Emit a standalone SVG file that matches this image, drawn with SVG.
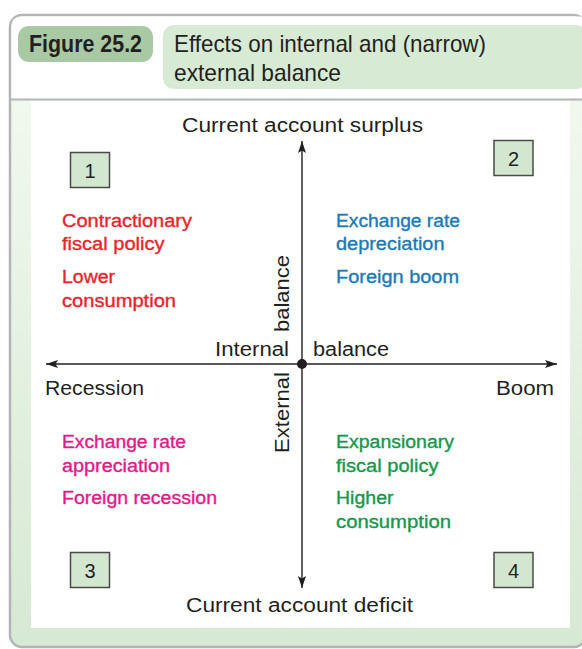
<svg xmlns="http://www.w3.org/2000/svg" width="582" height="649" viewBox="0 0 582 649">
<defs>
<linearGradient id="bg" x1="0" y1="100" x2="0" y2="648" gradientUnits="userSpaceOnUse">
<stop offset="0" stop-color="#f1f8ef"/>
<stop offset="1" stop-color="#d6e9d3"/>
</linearGradient>
<marker id="ah" viewBox="0 0 12 8" refX="12" refY="4" markerWidth="12" markerHeight="8" markerUnits="userSpaceOnUse" orient="auto">
<path d="M0,0 L12,4 L0,8 L2.5,4 z" fill="#231f20"/>
</marker>
<style>
.t{font-family:"Liberation Sans",Arial,sans-serif;fill:#231f20}
.ax{font-size:20px}
.q{font-size:18px;font-family:"Liberation Sans",Arial,sans-serif;stroke-width:0.35}
.red{fill:#e8232c;stroke:#e8232c}
.blue{fill:#1a7ab6;stroke:#1a7ab6}
.mag{fill:#e4178c;stroke:#e4178c}
.grn{fill:#14984a;stroke:#14984a}
.box rect{fill:#d3e6d0;stroke:#4a4a4a;stroke-width:1.5}
.box text{font-family:"Liberation Sans",Arial,sans-serif;font-size:20px;fill:#231f20;text-anchor:middle}
.axis{stroke:#231f20;stroke-width:1.4;fill:none}
</style>
</defs>

<g id="frame">
<rect x="10" y="15" width="576" height="632" rx="12" fill="url(#bg)" stroke="#b4b4b8" stroke-width="2.5"/>
<path d="M11.5,99.5 L582,99.5 L582,16.5 L22,16.5 Q11.5,16.5 11.5,27 Z" fill="#ffffff"/>
<line x1="10" y1="99.5" x2="582" y2="99.5" stroke="#b4b4b8" stroke-width="2"/>
<rect x="31" y="101" width="539" height="527" fill="#ffffff"/>
</g>

<g id="header">
<rect x="18" y="26" width="135" height="36" rx="11" fill="#a9c8a4"/>
<text class="t" x="29" y="52" font-size="24" font-weight="bold" textLength="113" lengthAdjust="spacingAndGlyphs">Figure 25.2</text>
<rect x="163" y="25" width="424" height="64" rx="11" fill="#d7ead4"/>
<text class="t" x="174" y="52" font-size="24" textLength="312" lengthAdjust="spacingAndGlyphs">Effects on internal and (narrow)</text>
<text class="t" x="174" y="81" font-size="24" textLength="167" lengthAdjust="spacingAndGlyphs">external balance</text>
</g>

<g id="connectors">
<path class="axis" d="M302,364 L46,364" marker-end="url(#ah)"/>
<path class="axis" d="M302,364 L557,364" marker-end="url(#ah)"/>
<path class="axis" d="M302,364 L302,141" marker-end="url(#ah)"/>
<path class="axis" d="M302,364 L302,588" marker-end="url(#ah)"/>
<circle cx="302" cy="364" r="5" fill="#231f20"/>
</g>

<g id="axis-labels">
<text class="t ax" x="182" y="132" textLength="241" lengthAdjust="spacingAndGlyphs">Current account surplus</text>
<text class="t ax" x="186" y="612" textLength="227" lengthAdjust="spacingAndGlyphs">Current account deficit</text>
<text class="t ax" x="45" y="395" textLength="99" lengthAdjust="spacingAndGlyphs">Recession</text>
<text class="t ax" x="496" y="395" textLength="58" lengthAdjust="spacingAndGlyphs">Boom</text>
<text class="t ax" x="215" y="356" textLength="74" lengthAdjust="spacingAndGlyphs">Internal</text>
<text class="t ax" x="313" y="356" textLength="76" lengthAdjust="spacingAndGlyphs">balance</text>
<text class="t ax" transform="translate(289,332) rotate(-90)" textLength="77" lengthAdjust="spacingAndGlyphs">balance</text>
<text class="t ax" transform="translate(289,453) rotate(-90)" textLength="81" lengthAdjust="spacingAndGlyphs">External</text>
</g>

<g id="box1" class="box"><rect x="70.5" y="152.5" width="39" height="35"/><text x="90" y="178">1</text></g>
<g id="box2" class="box"><rect x="494" y="140.5" width="39" height="35"/><text x="513.5" y="166">2</text></g>
<g id="box3" class="box"><rect x="70.5" y="552.5" width="39" height="35"/><text x="90" y="578">3</text></g>
<g id="box4" class="box"><rect x="494" y="552.5" width="39" height="35"/><text x="513.5" y="578">4</text></g>

<g id="quadrant1">
<text class="q red" x="62" y="227" textLength="130" lengthAdjust="spacingAndGlyphs">Contractionary</text>
<text class="q red" x="62" y="250" textLength="102.5" lengthAdjust="spacingAndGlyphs">fiscal policy</text>
<text class="q red" x="62" y="283" textLength="53" lengthAdjust="spacingAndGlyphs">Lower</text>
<text class="q red" x="62" y="307" textLength="114" lengthAdjust="spacingAndGlyphs">consumption</text>
</g>
<g id="quadrant2">
<text class="q blue" x="336" y="227" textLength="124" lengthAdjust="spacingAndGlyphs">Exchange rate</text>
<text class="q blue" x="336" y="250" textLength="108.5" lengthAdjust="spacingAndGlyphs">depreciation</text>
<text class="q blue" x="336" y="283" textLength="123" lengthAdjust="spacingAndGlyphs">Foreign boom</text>
</g>
<g id="quadrant3">
<text class="q mag" x="62" y="448" textLength="124" lengthAdjust="spacingAndGlyphs">Exchange rate</text>
<text class="q mag" x="62" y="472" textLength="108" lengthAdjust="spacingAndGlyphs">appreciation</text>
<text class="q mag" x="62" y="504" textLength="155" lengthAdjust="spacingAndGlyphs">Foreign recession</text>
</g>
<g id="quadrant4">
<text class="q grn" x="336" y="448" textLength="118" lengthAdjust="spacingAndGlyphs">Expansionary</text>
<text class="q grn" x="336" y="472" textLength="102.5" lengthAdjust="spacingAndGlyphs">fiscal policy</text>
<text class="q grn" x="336" y="504" textLength="57.5" lengthAdjust="spacingAndGlyphs">Higher</text>
<text class="q grn" x="336" y="528" textLength="115" lengthAdjust="spacingAndGlyphs">consumption</text>
</g>
</svg>
